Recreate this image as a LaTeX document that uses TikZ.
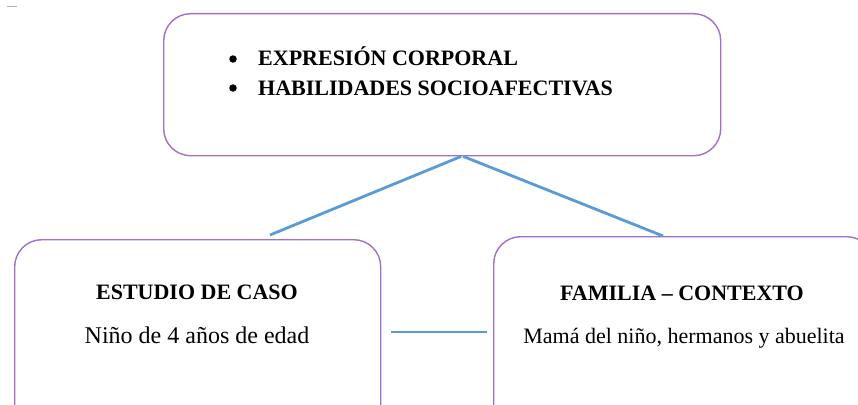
\documentclass[tikz,border=0pt]{standalone}
\usepackage{fontspec}
\setmainfont{Liberation Serif}
\usetikzlibrary{calc}
\definecolor{boxline}{RGB}{160,112,204}
\definecolor{conn}{RGB}{91,155,213}
\begin{document}
\begin{tikzpicture}[x=1pt,y=-1pt,
  box/.style={draw=boxline, line width=1.4pt, rounded corners=27pt, inner sep=0pt, anchor=north west, fill=white},
  link/.style={draw=conn, line width=2.8pt},
  bulletdot/.style={circle, fill=black, inner sep=0pt, minimum size=7.5pt},
  boldtxt/.style={font=\fontsize{22}{26}\selectfont\bfseries, inner sep=0pt},
  plaintxt/.style={font=\fontsize{22}{26}\selectfont, inner sep=0pt},
  bigtxt/.style={font=\fontsize{24}{28}\selectfont, inner sep=0pt}]
\useasboundingbox (0,0) rectangle (858,404);
\clip (0,0) rectangle (858,404);
\fill[white] (0,0) rectangle (858,404);
% small mark
\draw[gray!60, line width=1pt] (7,7) -- (17,7);
% boxes
\node[box, minimum width=557pt, minimum height=142pt] (top) at (163,13) {};
\node[box, minimum width=366pt, minimum height=210pt] (left) at (14,239) {};
\node[box, minimum width=380pt, minimum height=210pt] (right) at (493,236) {};
% top text
\node[bulletdot] (b1) at (233,59) {};
\node[bulletdot] (b2) at (233,88) {};
\node[boldtxt, anchor=base west] (e1) at (258,66) {EXPRESIÓN CORPORAL};
\node[boldtxt, anchor=base west] (e2) at (258,95) {HABILIDADES SOCIOAFECTIVAS};
% left text
\node[boldtxt, anchor=base] (l1) at (197,299) {ESTUDIO DE CASO};
\node[bigtxt, anchor=base] (l2) at (197,343) {Niño de 4 años de edad};
% right text
\node[boldtxt, anchor=base] (r1) at (682,300) {FAMILIA – CONTEXTO};
\node[plaintxt, anchor=base] (r2) at (684,343) {Mamá del niño, hermanos y abuelita};
% connectors
\coordinate (tA) at ($(top.south)+(19,0)$);
\coordinate (tB) at ($(top.south)+(21,0)$);
\coordinate (lA) at ($(left.north west)+(256,-4)$);
\coordinate (rA) at ($(right.north west)+(170,0)$);
\coordinate (lB) at ($(left.north east)+(10,93)$);
\coordinate (rB) at ($(right.north west)+(-6,96)$);
\draw[link] (tA) -- (lA);
\draw[link] (tB) -- (rA);
\draw[link] (lB) -- (rB);
\end{tikzpicture}
\end{document}
